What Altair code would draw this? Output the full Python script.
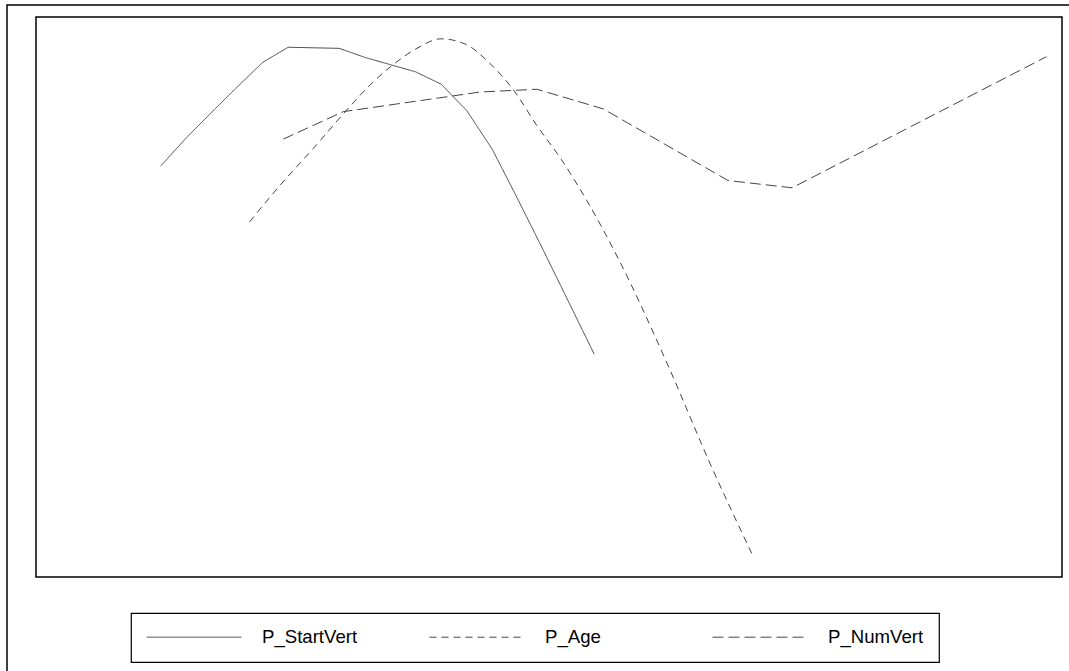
import altair as alt
import pandas as pd

series_names = ["P_StartVert", "P_Age", "P_NumVert"]

start_x = list(range(1, 19))
start_y = [73.4, 78.4, 83.0, 87.5, 91.9, 94.6, 94.5, 94.4, 92.8, 91.5,
           90.2, 88.0, 83.3, 76.4, 67.5, 58.4, 49.1, 39.8]

age_x = [4.48, 5.69, 6.98, 8.24, 9.22, 10.09, 11.05, 11.99, 12.93, 13.91,
         14.83, 15.74, 16.72, 17.70, 18.94, 20.97, 22.54, 24.18]
age_y = [63.4, 70.0, 76.5, 83.1, 87.9, 91.4, 94.4, 96.1, 95.2, 91.7,
         87.0, 80.7, 74.5, 67.3, 56.9, 37.0, 20.3, 4.2]

num_x = [5.81, 8.16, 13.52, 15.75, 18.35, 23.25, 25.76, 35.73]
num_y = [78.2, 83.1, 86.6, 87.1, 83.6, 70.8, 69.5, 92.9]

rows = []
for xs, ys, name in [(start_x, start_y, "P_StartVert"),
                     (age_x, age_y, "P_Age"),
                     (num_x, num_y, "P_NumVert")]:
    for xv, yv in zip(xs, ys):
        rows.append({"series": name, "x": xv, "y": yv})
df = pd.DataFrame(rows)

LINE = "#444444"

x_enc = alt.X("x:Q", scale=alt.Scale(domain=[-3.89, 36.345], nice=False, zero=False), axis=None)
y_enc = alt.Y("y:Q", scale=alt.Scale(domain=[0, 100], nice=False, zero=False), axis=None)
dash_enc = alt.StrokeDash(
    "series:N",
    scale=alt.Scale(domain=series_names, range=[[1, 0], [7, 5], [11, 5]]),
    legend=alt.Legend(
        title=None,
        orient="none",
        legendX=95,
        legendY=596,
        direction="horizontal",
        columns=3,
        gridAlign="all",
        symbolType="stroke",
        symbolSize=9025,
        symbolStrokeWidth=1,
        symbolStrokeColor=LINE,
        labelFont="Liberation Sans",
        labelFontSize=18.6,
        labelColor="black",
        labelOffset=20,
        columnPadding=71,
        padding=15,
        clipHeight=18,
        strokeColor="black",
    ),
)

base = alt.Chart(df).encode(x=x_enc, y=y_enc, strokeDash=dash_enc)

lines_lin = base.transform_filter(alt.datum.series != "P_Age").mark_line(
    stroke=LINE, strokeWidth=1
)
lines_age = base.transform_filter(alt.datum.series == "P_Age").mark_line(
    stroke=LINE, strokeWidth=1, interpolate="monotone"
)

border = alt.Chart(pd.DataFrame({"a": [0]})).mark_rect(
    filled=False, stroke="black", strokeWidth=1.5, clip=False
).encode(
    x=alt.value(-29), x2=alt.value(1060), y=alt.value(-12), y2=alt.value(720)
)

chart = alt.layer(border, lines_lin, lines_age).properties(
    width=1026,
    height=560,
    autosize=alt.AutoSizeParams(type="none"),
    padding={"left": 36, "top": 17, "right": 7, "bottom": 94},
    background="white",
).configure_view(
    stroke="black", strokeWidth=1.5
).configure_legend(
    strokeWidth=1.2
)

chart.save("out.html", embed_options={"renderer": "svg", "actions": False})
